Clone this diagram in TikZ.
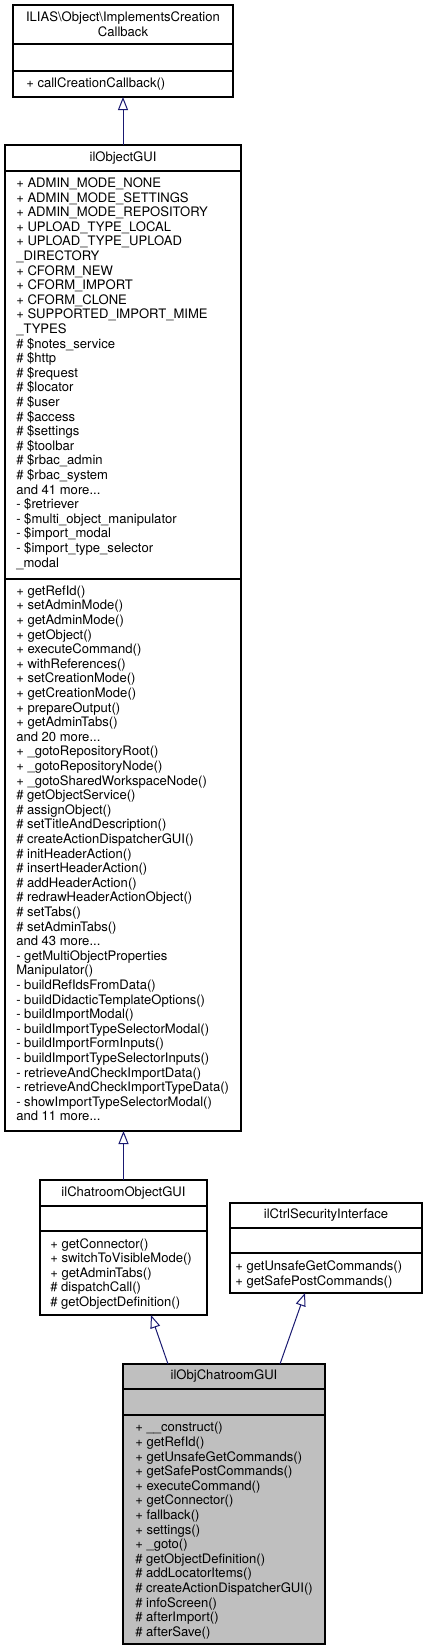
\documentclass[tikz,border=0pt]{standalone}
\usepackage{fontspec}
\setmainfont{TeX Gyre Heros}
\usetikzlibrary{positioning,arrows.meta,calc}

\definecolor{edgeblue}{HTML}{191970}
\definecolor{boxgrey}{HTML}{BFBFBF}

\tikzset{
  classpart/.style={draw=black, line width=0.9pt, fill=white, outer sep=0pt,
    inner sep=0pt, minimum width=#1,
    font=\fontsize{9.8pt}{10.95pt}\selectfont},
  classname/.style={classpart=#1, align=center},
  members/.style={inner sep=0pt, anchor=north west, align=left,
    font=\fontsize{9.8pt}{10.95pt}\selectfont},
  derived/.style={draw=edgeblue, line width=0.75pt,
    -{Triangle[open, length=9.75pt, width=7.5pt]}},
}

\begin{document}
\begin{tikzpicture}[x=0.75pt, y=-0.75pt]
  \useasboundingbox (0,0) rectangle (427,1652);

  % --- ILIAS\Object\ImplementsCreationCallback ---
  \node[classname=165pt, minimum height=29.25pt, anchor=north] (cbTitle) at (123,5)
    {ILIAS\textbackslash Object\textbackslash ImplementsCreation\\Callback};
  \node[classpart=165pt, minimum height=20.25pt, below=0pt of cbTitle] (cbAttr) {};
  \node[classpart=165pt, minimum height=19.5pt, below=0pt of cbAttr] (cbOps) {};
  \node[members] (cbOpsText) at ($(cbOps.north west)+(13,6.5)$) {+ callCreationCallback()};

  % --- ilObjectGUI ---
  \node[classname=177pt, minimum height=19.5pt, anchor=north] (ogTitle) at (123,145) {ilObjectGUI};
  \node[classpart=177pt, minimum height=306pt, below=0pt of ogTitle] (ogAttr) {};
  \node[classpart=177pt, minimum height=414pt, below=0pt of ogAttr] (ogOps) {};
  \node[members] (ogAttrText) at ($(ogAttr.north west)+(11,6.5)$) {%
    + ADMIN\_MODE\_NONE\\
    + ADMIN\_MODE\_SETTINGS\\
    + ADMIN\_MODE\_REPOSITORY\\
    + UPLOAD\_TYPE\_LOCAL\\
    + UPLOAD\_TYPE\_UPLOAD\\
    \_DIRECTORY\\
    + CFORM\_NEW\\
    + CFORM\_IMPORT\\
    + CFORM\_CLONE\\
    + SUPPORTED\_IMPORT\_MIME\\
    \_TYPES\\
    \# \$notes\_service\\
    \# \$http\\
    \# \$request\\
    \# \$locator\\
    \# \$user\\
    \# \$access\\
    \# \$settings\\
    \# \$toolbar\\
    \# \$rbac\_admin\\
    \# \$rbac\_system\\
    and 41 more...\\
    - \$retriever\\
    - \$multi\_object\_manipulator\\
    - \$import\_modal\\
    - \$import\_type\_selector\\
    \_modal};
  \node[members] (ogOpsText) at ($(ogOps.north west)+(11,6.5)$) {%
    + getRefId()\\
    + setAdminMode()\\
    + getAdminMode()\\
    + getObject()\\
    + executeCommand()\\
    + withReferences()\\
    + setCreationMode()\\
    + getCreationMode()\\
    + prepareOutput()\\
    + getAdminTabs()\\
    and 20 more...\\
    + \_gotoRepositoryRoot()\\
    + \_gotoRepositoryNode()\\
    + \_gotoSharedWorkspaceNode()\\
    \# getObjectService()\\
    \# assignObject()\\
    \# setTitleAndDescription()\\
    \# createActionDispatcherGUI()\\
    \# initHeaderAction()\\
    \# insertHeaderAction()\\
    \# addHeaderAction()\\
    \# redrawHeaderActionObject()\\
    \# setTabs()\\
    \# setAdminTabs()\\
    and 43 more...\\
    - getMultiObjectProperties\\
    Manipulator()\\
    - buildRefIdsFromData()\\
    - buildDidacticTemplateOptions()\\
    - buildImportModal()\\
    - buildImportTypeSelectorModal()\\
    - buildImportFormInputs()\\
    - buildImportTypeSelectorInputs()\\
    - retrieveAndCheckImportData()\\
    - retrieveAndCheckImportTypeData()\\
    - showImportTypeSelectorModal()\\
    and 11 more...};

  % --- ilChatroomObjectGUI ---
  \node[classname=125.25pt, minimum height=19.5pt, anchor=north] (coTitle) at (123.5,1180) {ilChatroomObjectGUI};
  \node[classpart=125.25pt, minimum height=18.75pt, below=0pt of coTitle] (coAttr) {};
  \node[classpart=125.25pt, minimum height=63pt, below=0pt of coAttr] (coOps) {};
  \node[members] (coOpsText) at ($(coOps.north west)+(10,7)$) {%
    + getConnector()\\
    + switchToVisibleMode()\\
    + getAdminTabs()\\
    \# dispatchCall()\\
    \# getObjectDefinition()};

  % --- ilCtrlSecurityInterface ---
  \node[classname=144pt, minimum height=18.75pt, anchor=north] (csTitle) at (326,1203) {ilCtrlSecurityInterface};
  \node[classpart=144pt, minimum height=18.75pt, below=0pt of csTitle] (csAttr) {};
  \node[classpart=144pt, minimum height=30pt, below=0pt of csAttr] (csOps) {};
  \node[members] (csOpsText) at ($(csOps.north west)+(5,7.5)$) {%
    + getUnsafeGetCommands()\\
    + getSafePostCommands()};

  % --- ilObjChatroomGUI (grey) ---
  \node[classname=151.5pt, fill=boxgrey, minimum height=18.75pt, anchor=north] (ocTitle) at (224,1364) {ilObjChatroomGUI};
  \node[classpart=151.5pt, fill=boxgrey, minimum height=19.5pt, below=0pt of ocTitle] (ocAttr) {};
  \node[classpart=151.5pt, fill=boxgrey, minimum height=171.75pt, below=0pt of ocAttr] (ocOps) {};
  \node[members] (ocOpsText) at ($(ocOps.north west)+(12,7)$) {%
    + \_\_construct()\\
    + getRefId()\\
    + getUnsafeGetCommands()\\
    + getSafePostCommands()\\
    + executeCommand()\\
    + getConnector()\\
    + fallback()\\
    + settings()\\
    + \_goto()\\
    \# getObjectDefinition()\\
    \# addLocatorItems()\\
    \# createActionDispatcherGUI()\\
    \# infoScreen()\\
    \# afterImport()\\
    \# afterSave()};

  % --- Inheritance edges ---
  \draw[derived] (ogTitle.north) -- (cbOps.south);
  \draw[derived] (coTitle.north) -- (coTitle.north |- ogOps.south);
  \draw[derived] ($(ocTitle.north west)+(45,0)$) -- ($(coOps.south west)+(111,0)$);
  \draw[derived] ($(ocTitle.north west)+(157,0)$) -- ($(csOps.south west)+(75,0)$);
\end{tikzpicture}
\end{document}
